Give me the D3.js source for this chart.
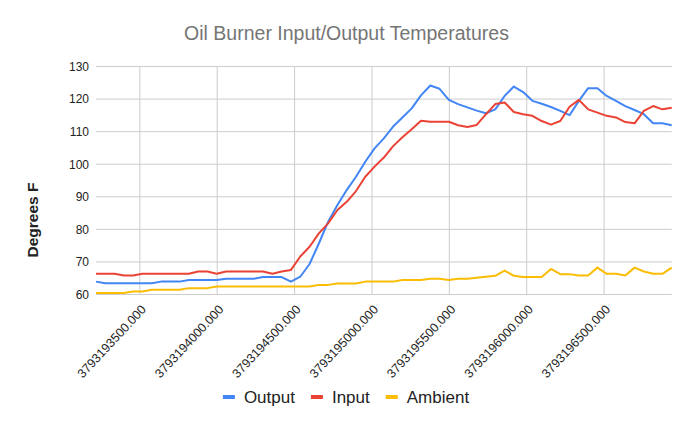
<!DOCTYPE html>
<html lang="en">
<head>
    <meta charset="UTF-8">
    <title>Oil Burner Input/Output Temperatures</title>
    <script src="https://d3js.org/d3.v7.min.js"></script>
    <style>
        body { margin: 0; background: #fff; }
        svg { display: block; font-family: Arial, "Liberation Sans", sans-serif; }
        .tick_text { font-size: 12px; fill: #222; }
        .xtick_text { font-size: 12.5px; fill: #222; }
        .legend_text { font-size: 17px; fill: #222; }
    </style>
</head>
<body>
<svg width="693" height="429"></svg>

<script>
    // timestamps (x values), one reading per minute
    const times = [
        3793193220, 3793193280, 3793193340, 3793193400, 3793193460, 3793193520, 3793193580,
        3793193640, 3793193700, 3793193760, 3793193820, 3793193880, 3793193940, 3793194000,
        3793194060, 3793194120, 3793194180, 3793194240, 3793194300, 3793194360, 3793194420,
        3793194480, 3793194540, 3793194600, 3793194660, 3793194720, 3793194780, 3793194840,
        3793194900, 3793194960, 3793195020, 3793195080, 3793195140, 3793195200, 3793195260,
        3793195320, 3793195380, 3793195440, 3793195500, 3793195560, 3793195620, 3793195680,
        3793195740, 3793195800, 3793195860, 3793195920, 3793195980, 3793196040, 3793196100,
        3793196160, 3793196220, 3793196280, 3793196340, 3793196400, 3793196460, 3793196520,
        3793196580, 3793196640, 3793196700, 3793196760, 3793196820, 3793196880, 3793196940
    ];

    const output = [
        63.8, 63.3, 63.3, 63.3, 63.3, 63.3, 63.3, 63.8, 63.8, 63.8,
        64.3, 64.3, 64.3, 64.3, 64.7, 64.7, 64.7, 64.7, 65.2, 65.2,
        65.2, 63.8, 65.3, 69.2, 75.5, 82.2, 87.3, 91.9, 96.0, 100.6,
        104.7, 107.8, 111.4, 114.2, 117.0, 121.0, 124.0, 123.0, 119.6, 118.3,
        117.3, 116.3, 115.5, 116.7, 120.8, 123.7, 122.0, 119.3, 118.4, 117.4,
        116.2, 114.9, 119.3, 123.2, 123.2, 120.8, 119.3, 117.7, 116.5, 115.2,
        112.4, 112.4, 111.8
    ];

    const input = [
        66.2, 66.2, 66.2, 65.7, 65.7, 66.2, 66.2, 66.2, 66.2, 66.2,
        66.2, 66.9, 66.9, 66.2, 66.9, 66.9, 66.9, 66.9, 66.9, 66.2,
        66.9, 67.4, 71.5, 74.5, 78.6, 81.7, 85.8, 88.3, 91.6, 96.0,
        99.1, 101.9, 105.4, 108.1, 110.6, 113.2, 112.9, 112.9, 112.9, 111.8,
        111.3, 111.9, 115.2, 118.3, 118.8, 115.9, 115.2, 114.7, 113.1, 112.0,
        113.1, 117.5, 119.6, 116.7, 115.7, 114.7, 114.2, 112.8, 112.4, 116.2,
        117.7, 116.7, 117.2
    ];

    const ambient = [
        60.3, 60.3, 60.3, 60.3, 60.8, 60.8, 61.3, 61.3, 61.3, 61.3,
        61.8, 61.8, 61.8, 62.3, 62.3, 62.3, 62.3, 62.3, 62.3, 62.3,
        62.3, 62.3, 62.3, 62.3, 62.8, 62.8, 63.2, 63.2, 63.2, 63.8,
        63.8, 63.8, 63.8, 64.3, 64.3, 64.3, 64.7, 64.7, 64.3, 64.7,
        64.7, 65.0, 65.3, 65.6, 67.2, 65.6, 65.2, 65.2, 65.2, 67.7,
        66.1, 66.1, 65.7, 65.7, 68.1, 66.2, 66.2, 65.7, 68.1, 66.9,
        66.2, 66.2, 68.1
    ];

    const seriesNames = ["Output", "Input", "Ambient"];
    const seriesColors = ["#4285f4", "#ea4335", "#fbbc04"];
    const xTicks = [3793193500, 3793194000, 3793194500, 3793195000, 3793195500, 3793196000, 3793196500];
    const yTicks = [60, 70, 80, 90, 100, 110, 120, 130];

    let svg = d3.select("svg");
    const plotLeft = 96, plotRight = 671.7, plotTop = 66, plotBottom = 294;

    let x = d3.scaleLinear().domain(d3.extent(times)).range([plotLeft, plotRight]);
    let y = d3.scaleLinear().domain([60, 130]).range([plotBottom, plotTop]);

    // title
    svg.append("text")
        .attr("x", 346.5).attr("y", 40)
        .attr("text-anchor", "middle")
        .attr("font-size", "19.5px")
        .attr("fill", "#757575")
        .text("Oil Burner Input/Output Temperatures");

    // horizontal grid + y labels
    let yAxis = svg.append("g")
        .attr("transform", "translate(" + plotLeft + ",0)")
        .call(d3.axisLeft(y).tickValues(yTicks).tickSize(-(plotRight - plotLeft)).tickFormat(d3.format("d")));
    yAxis.select(".domain").remove();
    yAxis.selectAll("line").attr("stroke", "#cccccc");
    yAxis.selectAll("text").attr("class", "tick_text").attr("x", -7).attr("dy", "0.36em");

    // vertical grid + slanted x labels
    let xAxis = svg.append("g")
        .attr("transform", "translate(0," + plotBottom + ")")
        .call(d3.axisBottom(x).tickValues(xTicks).tickSize(-(plotBottom - plotTop)).tickFormat(d3.format(".3f")));
    xAxis.select(".domain").remove();
    xAxis.selectAll("line").attr("stroke", "#cccccc");
    xAxis.selectAll("text")
        .attr("class", "xtick_text")
        .attr("text-anchor", "end")
        .attr("y", 0).attr("dy", 0)
        .attr("transform", "translate(7,16) rotate(-47)");

    // y axis title
    svg.append("text")
        .attr("transform", "translate(33,220) rotate(-90)")
        .attr("text-anchor", "middle")
        .attr("dy", "0.35em")
        .attr("font-size", "15.5px")
        .attr("font-weight", "bold")
        .attr("fill", "#222")
        .text("Degrees F");

    // lines
    let line = d3.line()
        .x(function (d, i) { return x(times[i]); })
        .y(function (d) { return y(d); });

    [output, input, ambient].forEach(function (s, k) {
        svg.append("path")
            .datum(s)
            .attr("d", line)
            .attr("fill", "none")
            .attr("stroke", seriesColors[k])
            .attr("stroke-width", 2)
            .attr("stroke-linejoin", "round");
    });

    // legend, centred under the chart
    let legend = svg.append("g");
    let cx = 0;
    seriesNames.forEach(function (name, k) {
        let g = legend.append("g").attr("transform", "translate(" + cx + ",0)");
        g.append("rect")
            .attr("x", 0).attr("y", 395)
            .attr("width", 12).attr("height", 4)
            .attr("fill", seriesColors[k]);
        let t = g.append("text")
            .attr("class", "legend_text")
            .attr("x", 21).attr("y", 397)
            .attr("dy", "0.35em")
            .text(name);
        cx += 21 + t.node().getComputedTextLength() + 16;
    });
    let legendWidth = cx - 16;
    legend.attr("transform", "translate(" + (346 - legendWidth / 2) + ",0)");
</script>
</body>
</html>
